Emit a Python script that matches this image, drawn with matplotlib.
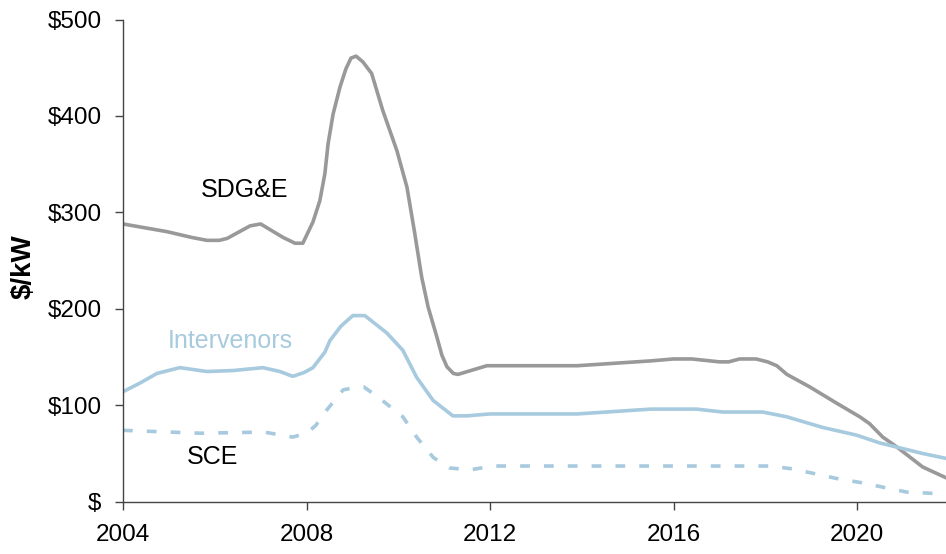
import numpy as np
import matplotlib.pyplot as plt

plt.rcParams['font.family'] = ['Liberation Sans', 'DejaVu Sans']

# SDG&E
sdge_years = [2004.0, 2004.96, 2005.5, 2005.83, 2006.1, 2006.27, 2006.77, 2007.0,
              2007.49, 2007.75, 2007.92, 2008.14, 2008.29, 2008.4, 2008.47, 2008.58,
              2008.73, 2008.86, 2008.97, 2009.08, 2009.23, 2009.42, 2009.66, 2009.97,
              2010.19, 2010.36, 2010.51, 2010.65, 2010.84, 2010.95, 2011.06, 2011.2,
              2011.3, 2011.93, 2013.9, 2015.5, 2016.0, 2016.4, 2017.0, 2017.2,
              2017.44, 2017.8, 2018.05, 2018.25, 2018.47, 2018.97, 2019.56, 2020.06,
              2020.27, 2020.56, 2020.86, 2021.43, 2021.93]
sdge_vals = [288, 280, 274, 271, 271, 273, 286, 288,
             274, 268, 268, 290, 312, 340, 371, 402,
             430, 449, 460, 462, 456, 444, 406, 364,
             326, 278, 233, 202, 171, 152, 140, 133,
             132, 141, 141, 146, 148, 148, 145, 145,
             148, 148, 145, 141, 132, 119, 102, 88,
             81, 67, 57, 36, 25]

# Intervenors
int_years = [2004.0, 2004.37, 2004.74, 2005.24, 2005.83, 2006.4, 2007.05, 2007.42,
             2007.7, 2007.95, 2008.14, 2008.4, 2008.51, 2008.75, 2009.01, 2009.27,
             2009.75, 2010.1, 2010.4, 2010.76, 2011.19, 2011.49, 2012.0, 2013.9,
             2015.5, 2016.5, 2017.07, 2017.94, 2018.47, 2019.25, 2019.99, 2020.49,
             2021.43, 2021.93]
int_vals = [114, 123, 133, 139, 135, 136, 139, 135,
            130, 134, 139, 155, 167, 182, 193, 193,
            175, 157, 129, 105, 89, 89, 91, 91,
            96, 96, 93, 93, 88, 77, 69, 61,
            50, 45]

# SCE
sce_years = [2004.0, 2005.7, 2006.83, 2007.1, 2007.7, 2008.0, 2008.2, 2008.44,
             2008.8, 2009.12, 2009.25, 2009.6, 2010.1, 2010.4, 2010.76, 2011.12,
             2011.56, 2012.06, 2018.1, 2018.6, 2019.56, 2020.06, 2021.08, 2021.93]
sce_vals = [74, 71, 72, 72, 67, 71, 79, 95,
            116, 119, 119, 107, 88, 67, 46, 35,
            33, 37, 37, 34, 24, 20, 10, 8]

x_ticks = [2004, 2008, 2012, 2016, 2020]
y_ticks = [0, 100, 200, 300, 400, 500]
y_labels = ['$', '$100', '$200', '$300', '$400', '$500']

gray = '#999999'
blue = '#a7cade'

fig = plt.figure(figsize=(9.46, 5.54), dpi=100)
ax = fig.add_axes([0.130, 0.0944, 0.873, 0.8704])

ax.plot(sdge_years, sdge_vals, color=gray, lw=2.6, solid_joinstyle='round')
ax.plot(int_years, int_vals, color=blue, lw=2.6, solid_joinstyle='round')
ax.plot(sce_years, sce_vals, color=blue, lw=2.6, linestyle=(0, (2.7, 3.9)),
        dash_capstyle='butt')

ax.text(2006.64, 323, 'SDG&E', fontsize=18, color='black', ha='center', va='center')
ax.text(2006.33, 167, 'Intervenors', fontsize=18, color=blue, ha='center', va='center')
ax.text(2005.96, 46, 'SCE', fontsize=18, color='black', ha='center', va='center')

ax.set_xlim(2004, 2022)
ax.set_ylim(0, 500)
ax.set_xticks(x_ticks)
ax.set_yticks(y_ticks)
ax.set_yticklabels(y_labels)
ax.tick_params(labelsize=17.5, length=6, width=1, color='#444444', direction='out')
ax.tick_params(axis='x', pad=10)
ax.tick_params(axis='y', pad=9.5)

for side in ['top', 'right']:
    ax.spines[side].set_visible(False)
for side in ['left', 'bottom']:
    ax.spines[side].set_color('#444444')
    ax.spines[side].set_linewidth(1)

ax.set_ylabel('$/kW', fontsize=20, fontweight='bold')
ax.yaxis.set_label_coords(-0.104, 0.487)

fig.savefig('out.png', dpi=100)
